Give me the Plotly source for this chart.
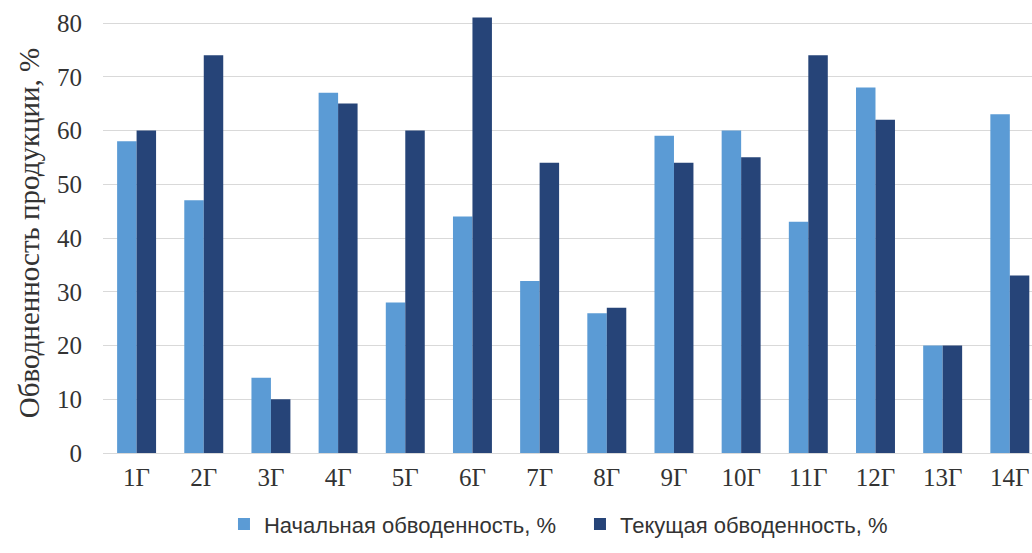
import plotly.graph_objects as go

# Well identifiers and water cut values (%)
wells = ["1Г", "2Г", "3Г", "4Г", "5Г", "6Г", "7Г", "8Г", "9Г", "10Г", "11Г", "12Г", "13Г", "14Г"]
initial_cut = [58, 47, 14, 67, 28, 44, 32, 26, 59, 60, 43, 68, 20, 63]
current_cut = [60, 74, 10, 65, 60, 81, 54, 27, 54, 55, 74, 62, 20, 33]

y_ticks = [0, 10, 20, 30, 40, 50, 60, 70, 80]

light_blue = "#5B9BD5"
dark_blue = "#264478"
text_color = "#333333"

fig = go.Figure()
fig.add_trace(go.Bar(
    x=wells, y=initial_cut, name="Начальная обводенность, %",
    marker=dict(color=light_blue, line=dict(width=0)),
))
fig.add_trace(go.Bar(
    x=wells, y=current_cut, name="Текущая обводенность, %",
    marker=dict(color=dark_blue, line=dict(width=0)),
))

fig.update_layout(
    width=1032, height=553,
    margin=dict(l=103, r=0, t=13, b=100, autoexpand=False),
    paper_bgcolor="white", plot_bgcolor="white",
    barmode="group", bargap=0.42, bargroupgap=0,
    showlegend=True,
    legend=dict(
        orientation="h", xref="container", x=0.562, xanchor="center",
        yref="container", y=0.052, yanchor="middle",
        font=dict(family="Liberation Sans", size=22, color=text_color),
        itemwidth=30, entrywidth=311, traceorder="normal",
    ),
    font=dict(family="Liberation Serif", color=text_color),
)

fig.update_xaxes(
    range=[-0.5, 13.33], automargin=False,
    showgrid=False, showline=False, zeroline=False,
    ticks="", tickfont=dict(family="Liberation Serif", size=25, color=text_color),
    ticklabelstandoff=7,
)
fig.update_yaxes(
    range=[0, 81.86], tickvals=y_ticks, automargin=False,
    showgrid=True, gridcolor="#D9D9D9", gridwidth=1,
    zeroline=True, zerolinecolor="#D9D9D9", zerolinewidth=1,
    showline=False, ticks="",
    tickfont=dict(family="Liberation Serif", size=25, color=text_color),
    ticklabelstandoff=20,
    title=dict(text="Обводненность продукции, %",
               font=dict(family="Liberation Serif", size=29, color=text_color),
               standoff=8),
)

fig.write_html("out.html")
